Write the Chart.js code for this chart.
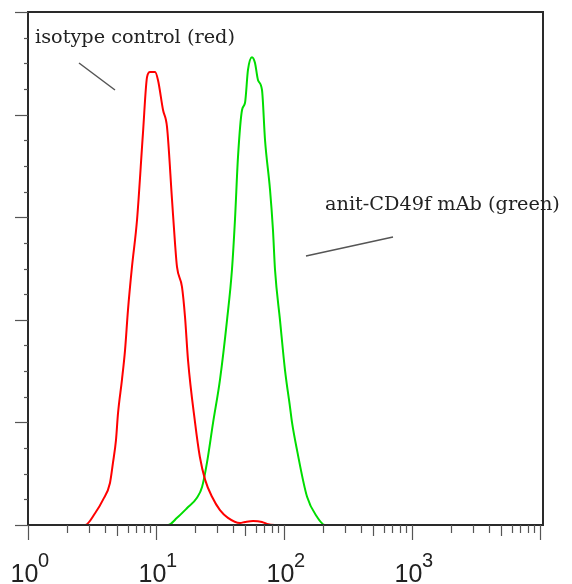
<!DOCTYPE html>
<html>
<head>
<meta charset="utf-8">
<script src="https://cdn.jsdelivr.net/npm/chart.js@4/dist/chart.umd.min.js"></script>
<style>
  html, body { margin: 0; padding: 0; background: #fff; }
  canvas { display: block; }
</style>
</head>
<body>
<canvas id="hist" width="572" height="584"></canvas>
<script>
// fluorescence channel (log) and event counts
const redX = [1, 2.79, 3.34, 3.85, 4.37, 4.61, 4.87, 5.05, 5.42, 5.73, 6.04, 6.49, 7.11, 7.91, 8.51, 8.98, 9.83, 10.37, 11.35, 12.19, 13.34, 14.07, 14.59, 15.96, 16.86, 17.78, 20.2, 22.0, 24.2, 27.4, 31.6, 36.5, 45.3, 49.6, 57.3, 67.3, 73.6, 85, 10554];
const redY = [0, 0, 2.3, 4.9, 8.2, 12.1, 16.6, 21.8, 28.3, 34.1, 41.9, 50.3, 59.5, 76.4, 87.3, 88.3, 88.3, 86.7, 80.9, 77.6, 63.4, 55.0, 50.3, 46.4, 40.5, 32.2, 19.9, 13.3, 8.8, 5.5, 2.9, 1.4, 0.4, 0.6, 0.8, 0.6, 0.2, 0, 0];

const greenX = [1, 12.4, 14.6, 17.5, 20.9, 22.9, 25.0, 27.9, 31.6, 35.9, 39.2, 41.4, 43.7, 47.0, 49.6, 52.3, 56.2, 59.3, 62.7, 67.3, 71.1, 77.8, 82.0, 85.1, 93.0, 101.8, 111.4, 115.5, 126.4, 151.4, 181.1, 209, 10554];
const greenY = [0, 0, 1.4, 3.3, 5.3, 7.4, 12.1, 19.9, 28.3, 40.0, 49.7, 59.5, 71.7, 80.9, 82.3, 88.7, 91.2, 90.1, 86.7, 84.8, 75.0, 65.3, 57.5, 49.7, 40.0, 30.2, 23.0, 20.0, 14.6, 5.5, 1.6, 0, 0];

const xDecades = [1, 10, 100, 1000];
const xLabelExp = ['0', '1', '2', '3'];

function pts(xs, ys) {
    return xs.map((x, i) => ({ x: x, y: ys[i] }));
}

const framePlugin = {
    id: 'frame',
    afterDraw: function (chart) {
        const { ctx, chartArea: a, scales } = chart;
        const xs = scales.x, ys = scales.y;
        ctx.save();

        // border box
        ctx.strokeStyle = '#2a2a2a';
        ctx.lineWidth = 2;
        ctx.strokeRect(a.left, a.top, a.right - a.left, a.bottom - a.top);

        // x ticks
        ctx.lineWidth = 1.2;
        ctx.strokeStyle = '#555';
        for (let d = 1; d <= 10000; d *= 10) {
            for (let m = 1; m <= 9; m++) {
                const v = d * m;
                if (v > xs.max) break;
                const px = Math.round(xs.getPixelForValue(v)) + 0.5;
                let len = 8;
                if (m === 1) len = 15;
                else if (m === 5) len = 11;
                ctx.beginPath();
                ctx.moveTo(px, a.bottom);
                ctx.lineTo(px, a.bottom + len);
                ctx.stroke();
            }
        }

        // y ticks
        for (let v = 0; v <= 100; v += 5) {
            const py = Math.round(ys.getPixelForValue(v)) + 0.5;
            const len = (v % 20 === 0) ? 13 : 4;
            ctx.beginPath();
            ctx.moveTo(a.left - len, py);
            ctx.lineTo(a.left, py);
            ctx.stroke();
        }

        // decade labels
        ctx.fillStyle = '#222';
        xDecades.forEach((v, i) => {
            const px = xs.getPixelForValue(v);
            ctx.font = '25px "Liberation Sans", Arial, sans-serif';
            ctx.textAlign = 'center';
            ctx.textBaseline = 'alphabetic';
            ctx.fillText('10', px - 3.5, 582);
            ctx.font = '20px "Liberation Sans", Arial, sans-serif';
            ctx.textAlign = 'left';
            ctx.fillText(xLabelExp[i], px + 10, 567);
        });

        // annotations
        ctx.font = '19.3px "DejaVu Serif", serif';
        ctx.fillStyle = '#222';
        ctx.textAlign = 'left';
        ctx.fillText('isotype control (red)', 35, 43);
        ctx.fillText('anit-CD49f mAb (green)', 325, 210);

        ctx.strokeStyle = '#555';
        ctx.lineWidth = 1.5;
        ctx.beginPath();
        ctx.moveTo(79, 63);
        ctx.lineTo(115, 90);
        ctx.moveTo(306, 256);
        ctx.lineTo(393, 237);
        ctx.stroke();

        ctx.restore();
    }
};

new Chart(document.getElementById('hist').getContext('2d'), {
    type: 'line',
    data: {
        datasets: [
            {
                label: 'isotype control',
                data: pts(redX, redY),
                borderColor: '#ff0000',
                borderWidth: 2,
                pointRadius: 0,
                cubicInterpolationMode: 'monotone',
                fill: false
            },
            {
                label: 'anit-CD49f mAb',
                data: pts(greenX, greenY),
                borderColor: '#00dd00',
                borderWidth: 2,
                pointRadius: 0,
                cubicInterpolationMode: 'monotone',
                fill: false
            }
        ]
    },
    options: {
        responsive: false,
        animation: false,
        layout: { padding: { left: 28, right: 29, top: 12, bottom: 59 } },
        plugins: {
            legend: { display: false },
            tooltip: { enabled: false }
        },
        scales: {
            x: { type: 'logarithmic', min: 1, max: 10554, display: false },
            y: { type: 'linear', min: 0, max: 100, display: false }
        }
    },
    plugins: [framePlugin]
});
</script>
</body>
</html>
